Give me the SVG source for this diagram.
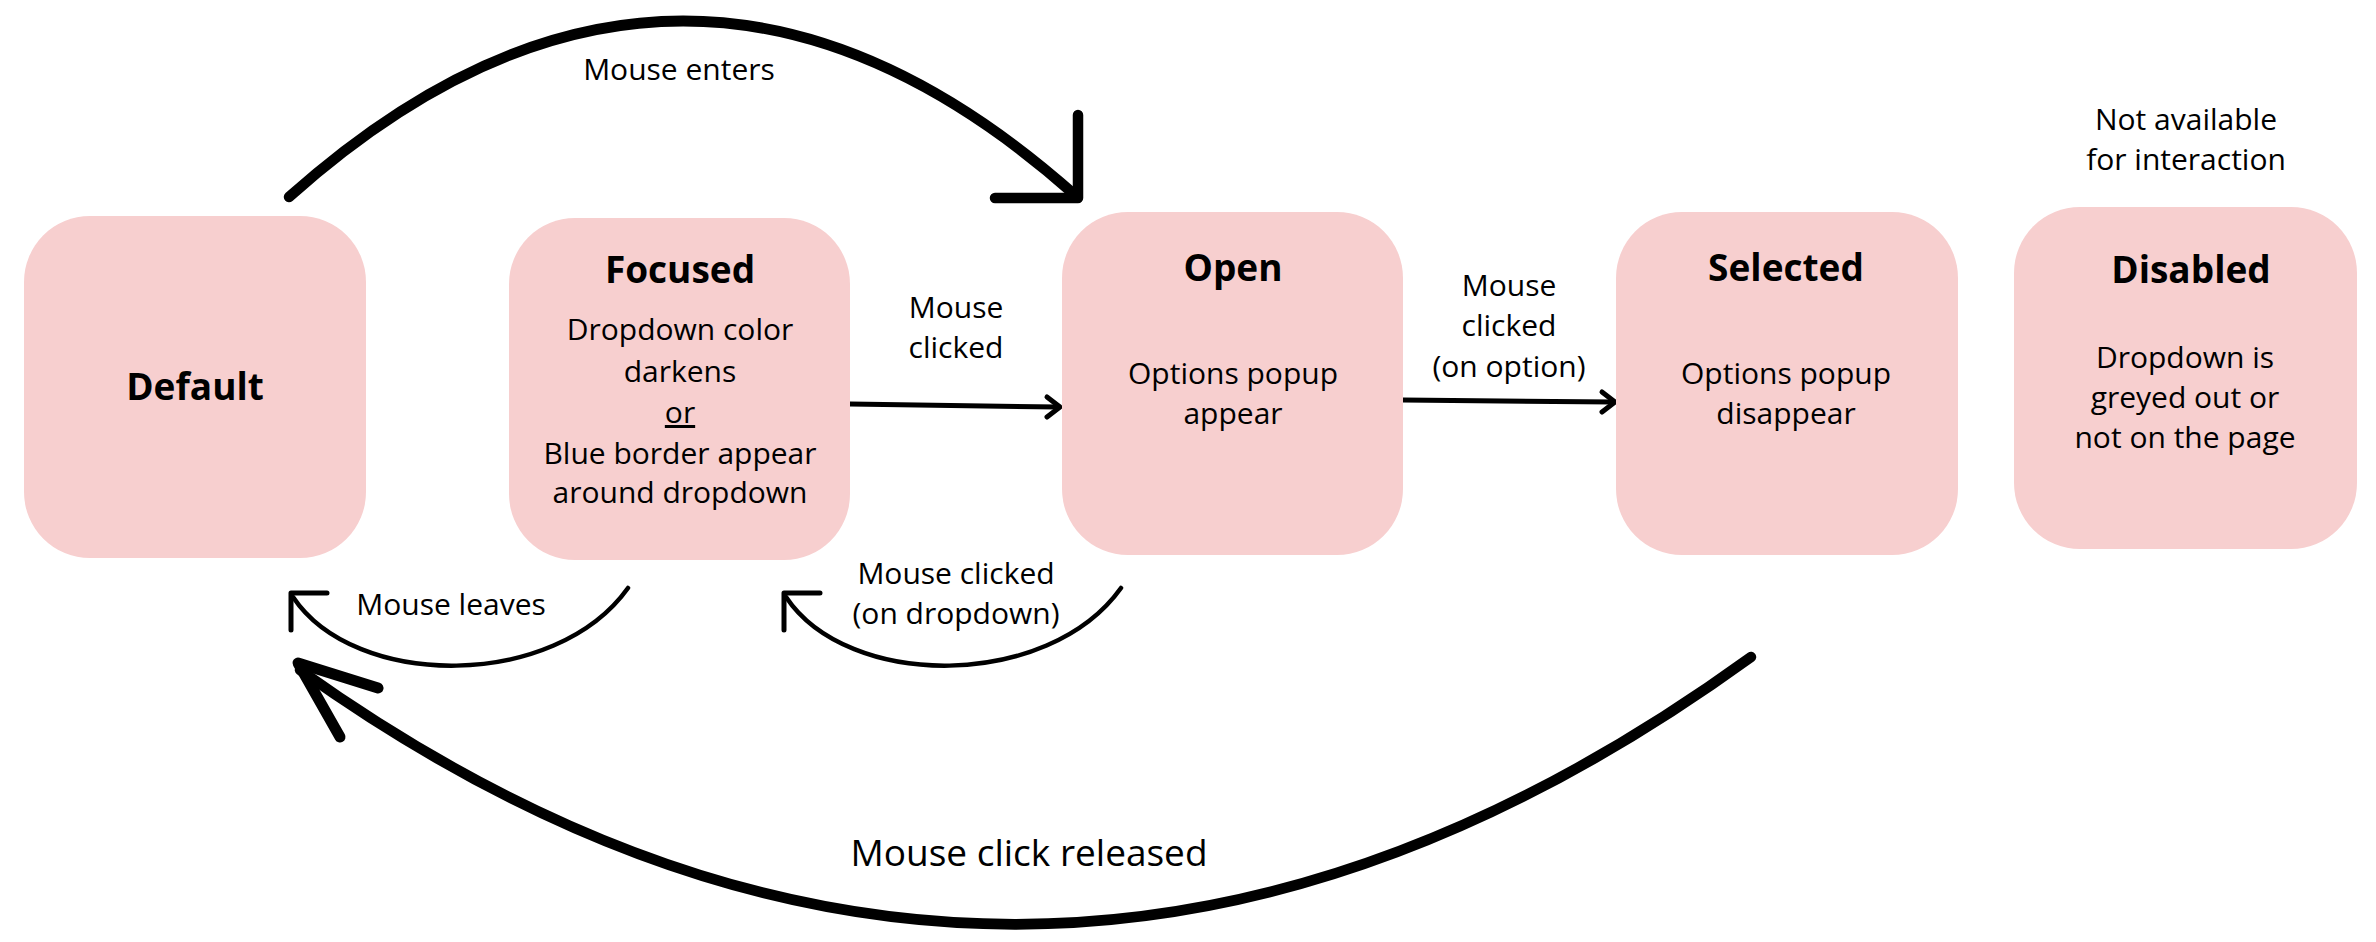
<svg xmlns="http://www.w3.org/2000/svg" width="2376" height="942" viewBox="0 0 2376 942">
<style>
.box{fill:#f7cfcf}
text{font-family:"Open Sans","Noto Sans",sans-serif;fill:#000;text-anchor:middle}
.t{font-size:37px;font-weight:700}
.b{font-size:30px}
.lg{font-size:37px}
.c{fill:none;stroke:#000;stroke-linecap:round;stroke-linejoin:round}
</style>
<rect width="2376" height="942" fill="#fff"/>
<g id="connectors">
<path class="c" d="M289 197 Q682 -154 1075 195" stroke-width="10.5"/>
<path class="c" d="M1078 115 L1078 198 L995 198" stroke-width="10.5"/>
<path class="c" d="M850 404 L1058 407" stroke-width="5"/>
<path class="c" d="M1047 397 L1060 407 L1047 417" stroke-width="5"/>
<path class="c" d="M1403 400 L1613 402" stroke-width="5"/>
<path class="c" d="M1602 392 L1615 402 L1602 412" stroke-width="5"/>
<path class="c" d="M628 588 C555 690 355 690 293 597" stroke-width="4.5"/>
<path class="c" d="M327 593 L291 593 L291 630" stroke-width="5" stroke-linecap="butt" stroke-linejoin="miter"/>
<path class="c" d="M1121 588 C1048 690 848 690 786 597" stroke-width="4.5"/>
<path class="c" d="M820 593 L784 593 L784 630" stroke-width="5" stroke-linecap="butt" stroke-linejoin="miter"/>
<path class="c" d="M1751 657 Q1022 1185 300 670" stroke-width="10.5"/>
<path class="c" d="M378 688 L298 663 L340 737" stroke-width="11" stroke-linecap="butt" stroke-linejoin="miter"/>
<text class="b" x="679" y="80">Mouse enters</text>
<text class="b" x="956" y="318">Mouse</text>
<text class="b" x="956" y="358">clicked</text>
<text class="b" x="1509" y="296">Mouse</text>
<text class="b" x="1509" y="336">clicked</text>
<text class="b" x="1509" y="377">(on option)</text>
<text class="b" x="451" y="615">Mouse leaves</text>
<text class="b" x="956" y="584">Mouse clicked</text>
<text class="b" x="956" y="624">(on dropdown)</text>
<text class="lg" x="1029" y="866">Mouse click released</text>
</g>
<g id="default">
<rect class="box" x="24" y="216" width="342" height="342" rx="66"/>
<text class="t" x="195" y="400">Default</text>
</g>
<g id="focused">
<rect class="box" x="509" y="218" width="341" height="342" rx="66"/>
<text class="t" x="680" y="283">Focused</text>
<text class="b" x="680" y="340">Dropdown color</text>
<text class="b" x="680" y="382">darkens</text>
<text class="b" x="680" y="423" text-decoration="underline">or</text>
<text class="b" x="680" y="464">Blue border appear</text>
<text class="b" x="680" y="503">around dropdown</text>
</g>
<g id="open">
<rect class="box" x="1062" y="212" width="341" height="343" rx="66"/>
<text class="t" x="1233" y="281">Open</text>
<text class="b" x="1233" y="384">Options popup</text>
<text class="b" x="1233" y="424">appear</text>
</g>
<g id="selected">
<rect class="box" x="1616" y="212" width="342" height="343" rx="66"/>
<text class="t" x="1786" y="281">Selected</text>
<text class="b" x="1786" y="384">Options popup</text>
<text class="b" x="1786" y="424">disappear</text>
</g>
<g id="disabled">
<text class="b" x="2186" y="130">Not available</text>
<text class="b" x="2186" y="170">for interaction</text>
<rect class="box" x="2014" y="207" width="343" height="342" rx="66"/>
<text class="t" x="2191" y="283">Disabled</text>
<text class="b" x="2185" y="368">Dropdown is</text>
<text class="b" x="2185" y="408">greyed out or</text>
<text class="b" x="2185" y="448">not on the page</text>
</g>
</svg>
